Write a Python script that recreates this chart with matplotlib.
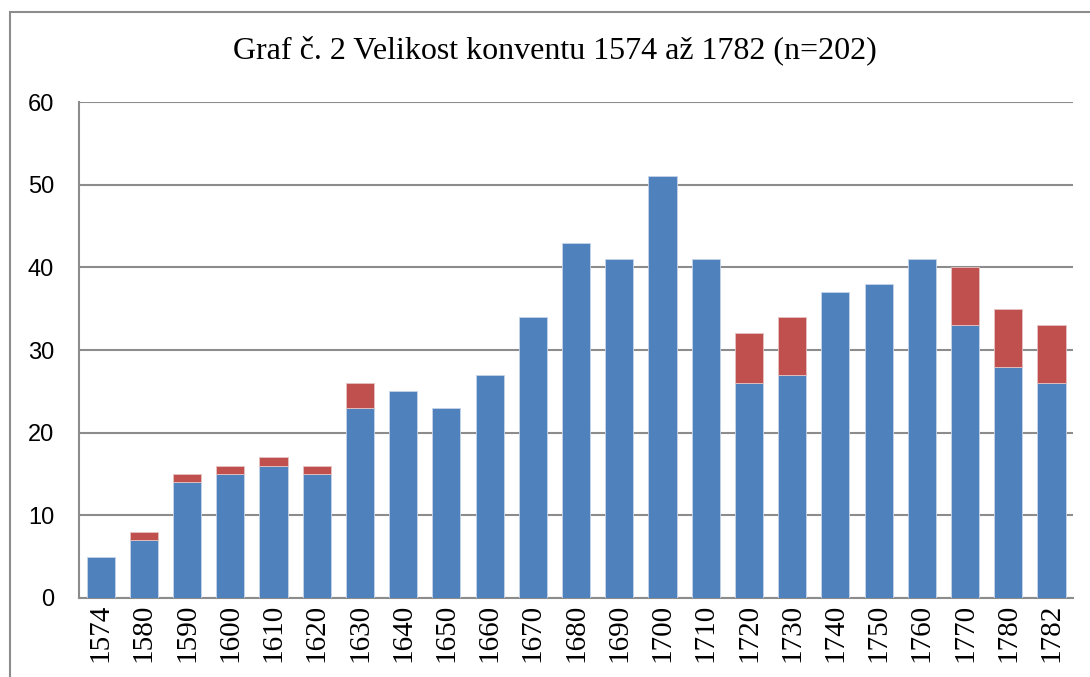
import matplotlib.pyplot as plt
from matplotlib.patches import Rectangle

# data
years = ['1574', '1580', '1590', '1600', '1610', '1620', '1630', '1640', '1650',
         '1660', '1670', '1680', '1690', '1700', '1710', '1720', '1730', '1740',
         '1750', '1760', '1770', '1780', '1782']
blue_vals = [5, 7, 14, 15, 16, 15, 23, 25, 23, 27, 34, 43, 41, 51, 41, 26, 27,
             37, 38, 41, 33, 28, 26]
red_vals = [0, 1, 1, 1, 1, 1, 3, 0, 0, 0, 0, 0, 0, 0, 0, 6, 7, 0, 0, 0, 7, 7, 7]

fig = plt.figure(figsize=(10.9, 6.77), dpi=100)
ax = fig.add_axes([0.0725, 0.1167, 0.912, 0.7326])

# outer chart border
fig.patches.append(Rectangle((10 / 1090, -0.1), 1.2, 1 - 12 / 677 + 0.1,
                             transform=fig.transFigure, fill=False,
                             edgecolor='#8c8c8c', linewidth=1.5))

x = list(range(len(years)))
ax.bar(x, blue_vals, width=0.65, color='#4F81BD', edgecolor='#c6d5ea',
       linewidth=0.6, zorder=3)
# red part only where there is something
rx = [i for i in x if red_vals[i] > 0]
ax.bar(rx, [red_vals[i] for i in rx], width=0.65,
       bottom=[blue_vals[i] for i in rx], color='#C0504D',
       edgecolor='#e6c3c2', linewidth=0.6, zorder=3)

ax.set_xlim(-0.5, len(years) - 0.5)
ax.set_ylim(0, 60)
ax.set_yticks(range(0, 61, 10))
ax.set_xticks(x)
ax.set_xticklabels(years, rotation=90, fontsize=21, family='Liberation Serif')
for lab in ax.get_yticklabels():
    lab.set_family('Liberation Sans')
    lab.set_fontsize(17)
ax.tick_params(axis='y', length=0, pad=18)
ax.tick_params(axis='x', length=0, pad=4)

ax.grid(axis='y', color='#8c8c8c', linewidth=1.5, zorder=0)
for s in ['top', 'right']:
    ax.spines[s].set_visible(False)
for s in ['left', 'bottom']:
    ax.spines[s].set_color('#8c8c8c')
    ax.spines[s].set_linewidth(1.5)

fig.text(0.5 + 10 / 1090, 1 - 50 / 677, 'Graf č. 2 Velikost konventu 1574 až 1782 (n=202)',
         ha='center', va='center', fontsize=23, family='Liberation Serif')

plt.savefig('out.png', dpi=100)
